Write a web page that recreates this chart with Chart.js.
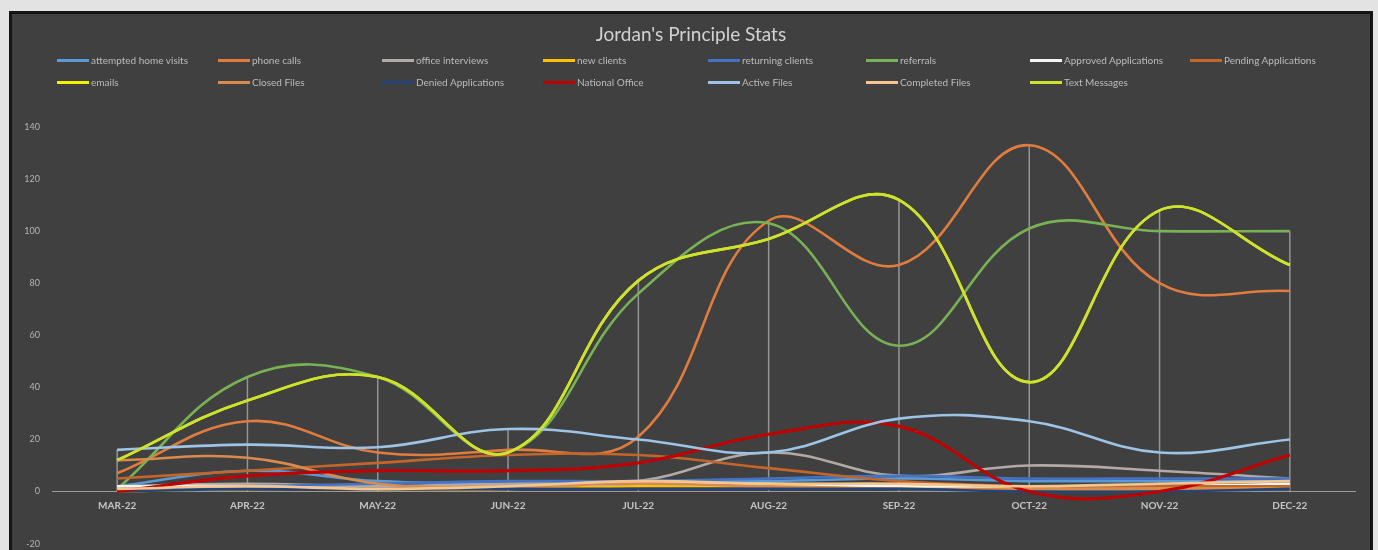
<!DOCTYPE html>
<html>
<head>
<meta charset="utf-8">
<script src="https://cdn.jsdelivr.net/npm/chart.js@4.4.0/dist/chart.umd.min.js"></script>
<style>
  html, body { margin: 0; padding: 0; background: #e3e3e3; overflow: hidden; }
  #wrap { position: relative; width: 1378px; height: 550px; overflow: hidden; filter: blur(0.5px); }
  #frame { position: absolute; left: 9px; top: 11px; width: 1358px; height: 545px; background: #404040; border: 3px solid #141414; }
  #title { position: absolute; left: 0; top: 22px; width: 1382px; text-align: center; font: 19px Lato, sans-serif; color: #d2d2d2; }
  .item { position: absolute; display: flex; align-items: center; font: 10px Lato, sans-serif; color: #bcbcbc; white-space: nowrap; transform: translateY(-50%); }
  .sw { width: 32px; height: 3px; margin-right: 2px; }
  /* canvas runs a little past the bottom edge, as the source chart is cut off there */
  #box { position: absolute; left: 0; top: 0; width: 1378px; height: 561px; }
</style>
</head>
<body>
<div id="wrap">
  <div id="frame"></div>
  <div id="title">Jordan's Principle Stats</div>
  <div id="legend"></div>
  <div id="box"><canvas id="chart"></canvas></div>
</div>
<script>
const months = ['MAR-22', 'APR-22', 'MAY-22', 'JUN-22', 'JUL-22', 'AUG-22', 'SEP-22', 'OCT-22', 'NOV-22', 'DEC-22'];

// series values
const attemptedHomeVisits = [2, 8, 4, 3, 4, 4, 5, 4, 4, 4];
const phoneCalls = [7, 27, 15, 16, 21, 104, 87, 133, 80, 77];
const officeInterviews = [2, 3, 2, 3, 4, 15, 6, 10, 8, 5];
const newClients = [0, 1, 1, 1, 2, 2, 2, 1, 1, 2];
const returningClients = [1, 2, 3, 4, 4, 5, 6, 5, 5, 5];
const referrals = [1, 44, 44, 15, 76, 103, 56, 101, 100, 100];
const approvedApps = [2, 2, 1, 2, 3, 3, 2, 2, 2, 3];
const pendingApps = [5, 8, 11, 14, 14, 9, 4, 2, 2, 2];
const emails = [12, 35, 44, 15, 81, 97, 112, 42, 108, 87];
const closedFiles = [12, 13, 3, 2, 3, 2, 1, 1, 1, 1];
const deniedApps = [0, 1, 1, 1, 1, 1, 1, 0, 0, 1];
const nationalOffice = [0, 6, 8, 8, 11, 22, 25, 0, 0, 14];
const activeFiles = [16, 18, 17, 24, 20, 15, 28, 27, 15, 20];
const completedFiles = [1, 2, 1, 2, 4, 3, 3, 2, 3, 4];
const textMessages = [12, 35, 44, 15, 81, 97, 112, 42, 108, 87];

const yTicks = [-20, 0, 20, 40, 60, 80, 100, 120, 140];

const series = [
    ['attempted home visits', attemptedHomeVisits, '#5b9bd5'],
    ['phone calls', phoneCalls, '#e07d3e'],
    ['office interviews', officeInterviews, '#b3aaa5'],
    ['new clients', newClients, '#ffc000'],
    ['returning clients', returningClients, '#4472c4'],
    ['referrals', referrals, '#78b254'],
    ['Approved Applications', approvedApps, '#f4f4f4'],
    ['Pending Applications', pendingApps, '#c4652a'],
    ['emails', emails, '#f2f200'],
    ['Closed Files', closedFiles, '#d98a4e'],
    ['Denied Applications', deniedApps, '#264478'],
    ['National Office', nationalOffice, '#c00000'],
    ['Active Files', activeFiles, '#9dc3e6'],
    ['Completed Files', completedFiles, '#f4c58e'],
    ['Text Messages', textMessages, '#cde22e']
];

// legend laid out like the spreadsheet one: 8 columns, 2 rows
const legendCols = [57, 218, 382, 543, 708, 866, 1030, 1190];
const legendRows = [60, 82];
const legend = document.getElementById('legend');
series.forEach(([label, , color], i) => {
    const item = document.createElement('div');
    item.className = 'item';
    item.style.left = legendCols[i % 8] + 'px';
    item.style.top = legendRows[Math.floor(i / 8)] + 'px';
    item.innerHTML = `<span class="sw" style="background:${color}"></span>${label}`;
    legend.appendChild(item);
});

// vertical drop lines from the highest point down to the axis
const dropLines = {
    id: 'dropLines',
    beforeDatasetsDraw(chart) {
        const { ctx, scales: { x, y } } = chart;
        ctx.save();
        ctx.strokeStyle = 'rgba(205,205,205,0.6)';
        ctx.lineWidth = 1.5;
        months.forEach((m, i) => {
            const vals = chart.data.datasets.map(d => d.data[i]);
            const hi = Math.max(...vals);
            const lo = Math.min(0, ...vals);
            const px = x.getPixelForValue(i);
            ctx.beginPath();
            ctx.moveTo(px, y.getPixelForValue(hi));
            ctx.lineTo(px, y.getPixelForValue(lo));
            ctx.stroke();
        });
        ctx.restore();
    }
};

new Chart(document.getElementById('chart'), {
    type: 'line',
    data: {
        labels: months,
        datasets: series.map(([label, data, color], i) => ({
            label,
            data,
            borderColor: color,
            backgroundColor: color,
            borderWidth: label === 'National Office' ? 3.2 : 2.6,
            pointRadius: 0,
            tension: 0.4,
            fill: false,
            order: -i
        }))
    },
    options: {
        responsive: true,
        maintainAspectRatio: false,
        animation: false,
        layout: { padding: { left: 10, right: 23, top: 127, bottom: 0 } },
        plugins: {
            legend: { display: false },
            title: { display: false },
            tooltip: { enabled: false }
        },
        scales: {
            x: {
                type: 'category',
                offset: true,
                position: { y: 0 },
                grid: { display: false, drawTicks: false },
                border: { display: true, color: '#9a9a9a', width: 1 },
                ticks: { color: '#c4c4c4', font: { family: 'Lato', size: 10, weight: 'bold' }, padding: 8, maxRotation: 0 }
            },
            y: {
                min: -20,
                max: 140,
                afterBuildTicks: s => { s.ticks = yTicks.map(v => ({ value: v })); },
                afterFit: s => { s.width = 42; },
                grid: { display: false, drawTicks: false },
                border: { display: false },
                ticks: { color: '#b4b4b4', font: { family: 'Lato', size: 9 }, padding: 12 }
            }
        }
    },
    plugins: [dropLines]
});
</script>
</body>
</html>
